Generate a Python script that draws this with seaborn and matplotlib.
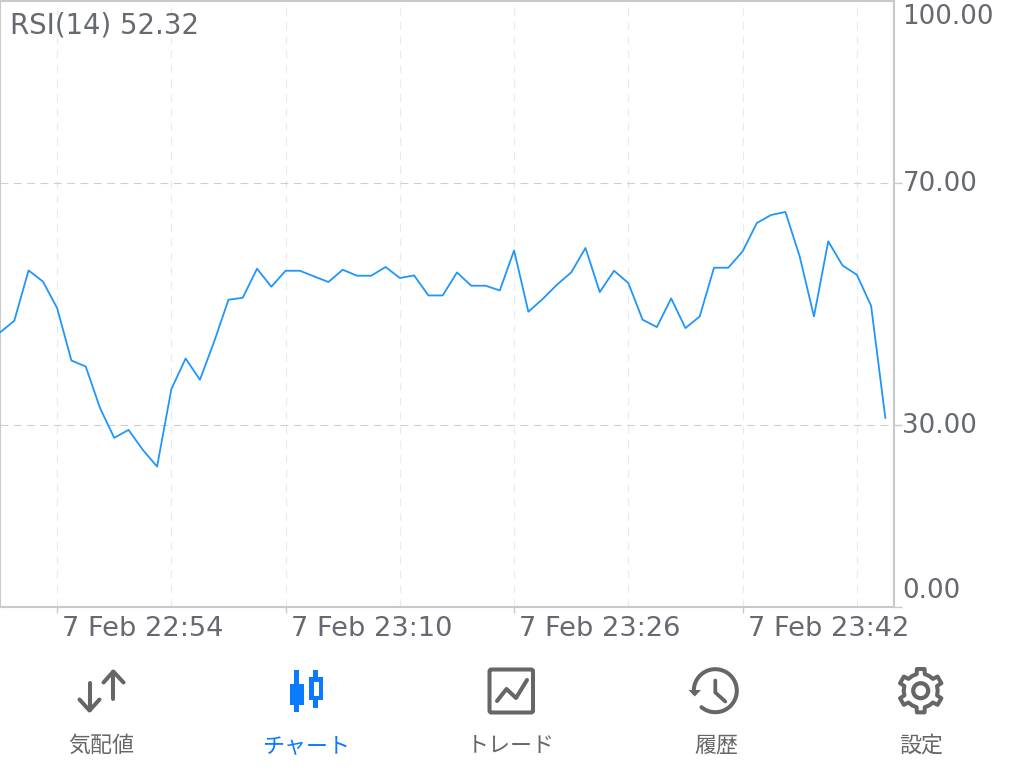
import numpy as np
import pandas as pd
import matplotlib
matplotlib.use('Agg')
import matplotlib.pyplot as plt
import seaborn as sns
from matplotlib.patches import Circle, FancyBboxPatch, Polygon, Rectangle

# RSI value per minute, starting at 22:50
rsi_values = [45.26, 47.19, 55.50, 53.69, 49.29, 40.63, 39.64, 32.81, 27.85, 29.17,
              25.87, 23.11, 35.90, 40.96, 37.44, 43.77, 50.66, 50.99, 55.79, 52.81,
              55.45, 55.45, 54.51, 53.59, 55.62, 54.63, 54.63, 56.07, 54.25, 54.68,
              51.37, 51.37, 55.17, 52.98, 52.98, 52.20, 58.81, 48.68, 50.78, 53.14,
              55.17, 59.21, 51.93, 55.45, 53.42, 47.36, 46.15, 50.88, 45.98, 47.90,
              55.95, 55.95, 58.64, 63.34, 64.66, 65.16, 57.82, 47.90, 60.30, 56.33,
              54.79, 49.67, 31.11]
minutes = list(range(len(rsi_values)))

x_tick_minutes = [4, 20, 36, 52]
x_tick_labels = ['7 Feb 22:54', '7 Feb 23:10', '7 Feb 23:26', '7 Feb 23:42']
x_grid_minutes = [4, 12, 20, 28, 36, 44, 52, 60]
y_levels = [30, 70]
y_labels = ['100.00', '70.00', '30.00', '0.00']
y_label_values = [100, 70, 30, 0]
nav_labels = ['気配値', 'チャート', 'トレード', '履歴', '設定']
nav_centers = [101, 306, 511, 716, 921]

W, H = 1024, 780
GRAY = '#666666'
BLUE = '#0a7aff'
TEXT = '#666971'
SPINE = '#c9c9c9'

sns.set_theme(style='white')
plt.rcParams['font.family'] = ['DejaVu Sans']

fig = plt.figure(figsize=(W / 100, H / 100), dpi=100, facecolor='white')
ax = fig.add_axes([0, 1 - 606.5 / H, 893.5 / W, 605.5 / H])

df = pd.DataFrame({'minute': minutes, 'rsi': rsi_values})
sns.lineplot(data=df, x='minute', y='rsi', color='#2196f8', linewidth=1.3, ax=ax, zorder=3)

ax.set_xlim(0, 62.57)
ax.set_ylim(0, 100)
ax.set_xlabel('')
ax.set_ylabel('')

for m in x_grid_minutes:
    ax.axvline(m, color='#e4ebf2', linewidth=0.8, dashes=(7, 6), zorder=1)
for level in y_levels:
    ax.axhline(level, color='#cfcfcf', linewidth=0.8, dashes=(7, 5), zorder=1)

for side in ['top', 'left', 'right', 'bottom']:
    ax.spines[side].set_color(SPINE)
    ax.spines[side].set_linewidth(1.5)
    ax.spines[side].set_visible(True)

ax.yaxis.tick_right()
ax.set_yticks([70, 30, 0])
ax.set_yticklabels([])
ax.set_xticks(x_tick_minutes)
ax.set_xticklabels([])
ax.tick_params(axis='x', length=4.5, width=1, color=SPINE, bottom=True)
ax.tick_params(axis='y', length=5.5, width=1, color=SPINE, right=True)

for m, label in zip(x_tick_minutes, x_tick_labels):
    ax.annotate(label, xy=(m, 0), xycoords=ax.get_xaxis_transform(),
                xytext=(5 * 0.72, -22 * 0.72), textcoords='offset points',
                fontsize=19.6, color=TEXT, va='center', ha='left', annotation_clip=False)

# y labels: the two ends are pulled inside the axes, as in the app
y_offsets = {100: -16.5, 70: -1, 30: -1, 0: 15.5}
for label, value in zip(y_labels, y_label_values):
    ax.annotate(label, xy=(1, value), xycoords=ax.get_yaxis_transform(),
                xytext=(9 * 0.72, y_offsets[value] * 0.72), textcoords='offset points',
                fontsize=18.8, color=TEXT, va='center', ha='left', annotation_clip=False)

ax.text(10 / 893.5, 1 - 24.5 / 605.5, 'RSI(14) 52.32', transform=ax.transAxes,
        fontsize=19.8, color=TEXT, va='center', ha='left')

# bottom nav bar, pixel coordinates
nav = fig.add_axes([0, 0, 1, 1], facecolor='none')
nav.set_xlim(0, W)
nav.set_ylim(H, 0)
nav.axis('off')


def stroke(xs, ys, color=GRAY, lw=2.9):
    nav.plot(xs, ys, color=color, linewidth=lw, solid_capstyle='round', solid_joinstyle='round')


for i, label in enumerate(nav_labels):
    nav.text(nav_centers[i], 746, label, fontsize=15.8, ha='center', va='center',
             family=['Noto Sans CJK JP', 'DejaVu Sans'], color=BLUE if i == 1 else GRAY)

# arrows
stroke([89.5, 89.5], [683, 710])
stroke([79.5, 89.5, 99.5], [699.5, 710.5, 699.5])
stroke([113.3, 113.3], [699, 671.5])
stroke([103.5, 113.3, 123.5], [682.5, 671.5, 682.5])

# candles
nav.add_patch(Rectangle((294.3, 670), 4.8, 42, color=BLUE, lw=0))
nav.add_patch(Rectangle((289.7, 684), 14.3, 21, color=BLUE, lw=0))
nav.add_patch(Rectangle((313.3, 670), 4.8, 37.7, color=BLUE, lw=0))
nav.add_patch(Rectangle((309.3, 677.3), 13.4, 22.7, color=BLUE, lw=0))
nav.add_patch(Rectangle((314, 681.7), 4.5, 14.3, color='white', lw=0))

# trade icon
nav.add_patch(FancyBboxPatch((489.5, 669.5), 43.5, 43, boxstyle='round,pad=0,rounding_size=2',
                             fill=False, edgecolor=GRAY, linewidth=2.9))
stroke([497, 506.5, 516, 527], [701, 689, 698, 680])

# history icon, open at the lower left
angles = np.deg2rad(np.linspace(180, 180 + 310, 120))
stroke(715.3 + 21.5 * np.cos(angles), 690.7 + 21.5 * np.sin(angles), lw=2.9)
nav.add_patch(Polygon([(688.5, 690), (701, 690), (694.7, 696.5)], color=GRAY, lw=0))
stroke([715.3, 715.3, 725.3], [680.5, 692.5, 701.5], lw=2.7)

# gear icon, six teeth
cx, cy = 920.7, 690.7
gear = []
for k in range(6):
    a = np.deg2rad(60 * k - 90)
    for da, r in [(-30, 17), (-14, 17), (-10, 22), (10, 22), (14, 17)]:
        b = a + np.deg2rad(da)
        gear.append((cx + r * np.cos(b), cy + r * np.sin(b)))
nav.add_patch(Polygon(gear, closed=True, fill=False, edgecolor=GRAY, linewidth=2.9, joinstyle='round'))
nav.add_patch(Circle((cx, cy), 7.5, fill=False, edgecolor=GRAY, linewidth=3))

fig.savefig('out.png', dpi=100)
